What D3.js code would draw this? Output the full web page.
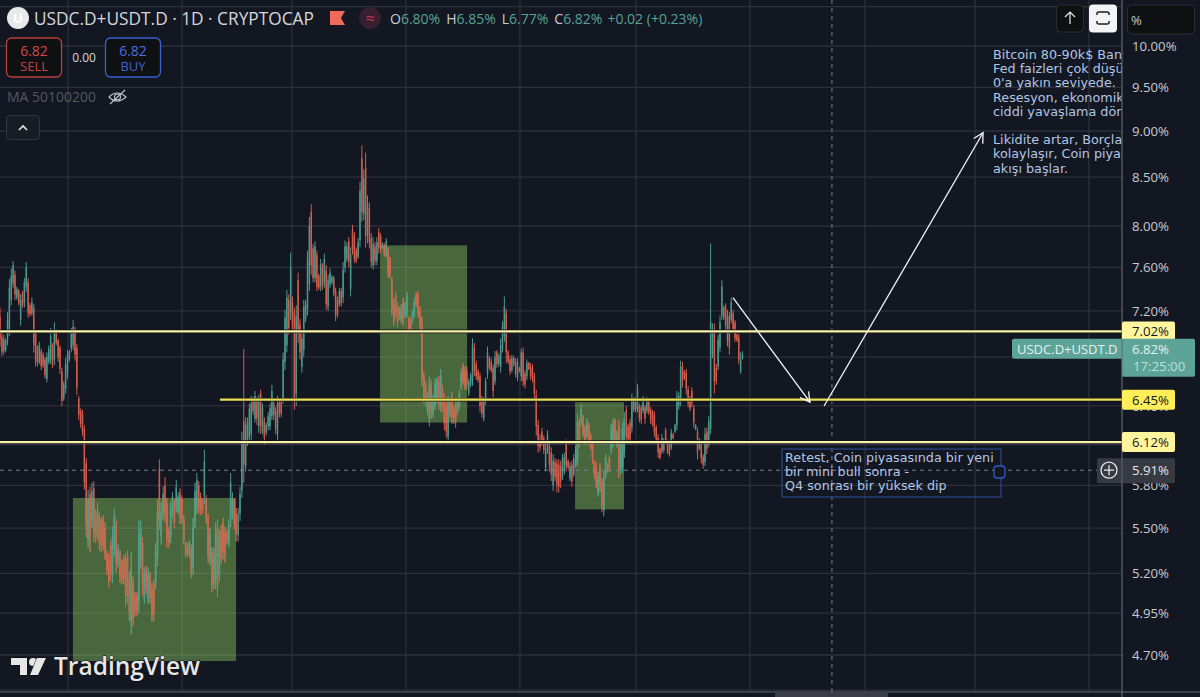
<!DOCTYPE html>
<html>
<head>
<meta charset="utf-8">
<script src="https://d3js.org/d3.v7.min.js"></script>
<style>
  html, body { margin: 0; padding: 0; background: #131722; overflow: hidden; }
  svg { display: block; }
  text { font-family: "Open Sans", sans-serif; }
  .note { font-family: "DejaVu Sans", sans-serif; font-size: 12.75px; fill: #b2c6e6; }
</style>
</head>
<body>
<svg id="chart" width="1200" height="697"></svg>
<script>
// rows are [open, high, low, close], oldest first
const barsAutumn = [
  [7.15,7.23,6.89,6.96],[6.97,7.01,6.81,6.84],[6.85,6.99,6.82,6.95],[6.86,6.96,6.84,6.94],[6.94,7.19,6.90,7.12],
  [7.02,7.49,6.98,7.41],[7.30,7.59,7.25,7.52],[7.45,7.66,7.41,7.62],[7.53,7.57,7.30,7.35],[7.32,7.42,7.30,7.40],
  [7.38,7.40,7.25,7.27],[7.12,7.35,7.07,7.30],[7.36,7.38,7.23,7.25],[7.27,7.50,7.23,7.46],[7.42,7.65,7.37,7.60],
  [7.46,7.50,7.14,7.18],[7.25,7.27,7.15,7.17],[7.18,7.32,7.16,7.28],[7.23,7.26,6.84,6.90],[7.00,7.03,6.72,6.76],
  [6.88,6.90,6.72,6.75],[6.76,6.93,6.74,6.90],[6.85,6.87,6.69,6.72],[6.82,6.84,6.71,6.73],[6.78,6.80,6.62,6.65],
  [6.62,6.84,6.59,6.80],[6.76,6.90,6.74,6.87],[6.78,7.05,6.74,6.98],[6.90,6.92,6.71,6.74],[6.78,7.10,6.73,7.04],
  [7.02,7.04,6.90,6.92],[6.94,6.96,6.76,6.80],[6.88,6.90,6.66,6.70],[6.68,6.71,6.40,6.44],[6.46,6.60,6.44,6.57],
  [6.54,6.79,6.50,6.74],[6.66,6.86,6.62,6.82],[6.78,6.86,6.76,6.84],[6.87,7.05,6.84,7.00],[6.90,7.12,6.86,7.06],
  [7.04,7.06,6.77,6.82],[6.88,6.91,6.49,6.55],[6.46,6.48,6.29,6.33],[6.36,6.38,6.23,6.26],[6.34,6.37,6.17,6.20],
  [6.22,6.25,5.77,5.82],[5.96,6.00,5.44,5.52]
];
const barsWinter = [
  [5.42,5.77,5.37,5.70],[5.74,5.79,5.34,5.40],[5.54,5.82,5.50,5.76],[5.78,5.83,5.41,5.47],[5.60,5.63,5.40,5.44],
  [5.46,5.68,5.42,5.62],[5.58,5.61,5.35,5.40],[5.54,5.57,5.34,5.38],[5.56,5.59,5.35,5.38],[5.50,5.54,5.29,5.33],
  [5.33,5.35,5.19,5.22],[5.30,5.33,5.11,5.15],[5.38,5.41,5.15,5.19],[5.20,5.51,5.14,5.44],[5.36,5.64,5.31,5.58],
  [5.52,5.56,5.21,5.27],[5.26,5.39,5.24,5.36],[5.33,5.35,5.14,5.18],[5.27,5.29,5.13,5.16],[5.30,5.32,5.13,5.17],
  [5.30,5.33,4.99,5.06],[5.31,5.35,5.01,5.06],[5.17,5.21,4.90,4.95],[4.90,5.34,4.82,5.24],[5.14,5.18,4.87,4.92],
  [5.06,5.08,4.93,4.96],[5.06,5.08,4.93,4.96],[5.02,5.55,4.95,5.46],[5.28,5.56,5.23,5.50],[5.40,5.44,5.06,5.12],
  [5.04,5.24,5.01,5.20],[5.22,5.25,5.07,5.10],[5.04,5.24,5.01,5.20],[5.19,5.21,5.01,5.05],[5.10,5.14,4.90,4.94],
  [5.13,5.16,4.90,4.95],[5.14,5.40,5.10,5.35],[5.30,5.70,5.25,5.62],[5.92,5.99,5.49,5.56],[5.44,5.68,5.39,5.62],
  [5.60,5.79,5.56,5.74],[5.80,5.86,5.54,5.60],[5.67,5.71,5.37,5.42],[5.48,5.51,5.37,5.40],[5.44,5.68,5.40,5.62],
  [5.60,5.75,5.57,5.72],[5.68,5.70,5.50,5.54],[5.65,5.84,5.61,5.79],[5.62,5.75,5.60,5.72],[5.75,5.78,5.53,5.58],
  [5.70,5.73,5.53,5.57],[5.56,5.59,5.39,5.42],[5.40,5.41,5.30,5.32],[5.38,5.40,5.31,5.33],[5.32,5.42,5.30,5.40]
];
const barsSpring = [
  [5.37,5.39,5.17,5.21],[5.24,5.57,5.19,5.50],[5.55,5.82,5.50,5.76],[5.64,5.89,5.60,5.84],[5.80,5.83,5.60,5.64],
  [5.72,5.75,5.59,5.62],[5.70,5.71,5.60,5.62],[5.72,6.06,5.67,5.97],[5.70,5.73,5.53,5.57],[5.57,5.60,5.27,5.32],
  [5.28,5.50,5.25,5.46],[5.34,5.37,5.08,5.13],[5.14,5.37,5.10,5.32],[5.16,5.54,5.10,5.48],[5.50,5.56,5.05,5.12],
  [5.20,5.49,5.15,5.43],[5.48,5.52,5.26,5.30],[5.53,5.57,5.29,5.34],[5.47,5.51,5.27,5.32],[5.47,5.49,5.39,5.41],
  [5.40,5.56,5.37,5.52],[5.56,5.89,5.51,5.82],[5.59,5.75,5.56,5.70],[5.68,5.71,5.49,5.53],[5.60,5.64,5.41,5.46],
  [5.45,5.64,5.41,5.60],[5.60,5.79,5.55,5.74],[5.76,6.20,5.71,6.12],[6.28,6.87,5.82,5.95],[5.94,6.31,5.90,6.25],
  [6.12,6.31,6.09,6.27],[6.16,6.42,6.13,6.38],[6.18,6.48,6.13,6.42],[6.45,6.47,6.33,6.36],[6.30,6.52,6.27,6.48],
  [6.44,6.47,6.25,6.30],[6.24,6.49,6.19,6.44],[6.50,6.53,6.18,6.24],[6.20,6.42,6.18,6.38],[6.28,6.31,6.10,6.15],
  [6.19,6.27,6.17,6.25],[6.24,6.35,6.21,6.32],[6.24,6.42,6.21,6.38],[6.32,6.57,6.29,6.52],[6.42,6.45,6.29,6.33],
  [6.36,6.39,6.18,6.22],[6.18,6.48,6.13,6.42],[6.44,6.46,6.31,6.34],[6.43,6.45,6.31,6.34]
];
const barsSummer = [
  [6.46,6.84,6.42,6.78],[6.76,7.21,6.69,7.14],[6.90,7.39,6.84,7.32],[7.30,7.35,6.99,7.05],[7.18,7.74,7.12,7.60],
  [7.28,7.33,7.03,7.08],[7.18,7.23,6.37,6.46],[6.50,7.25,6.40,7.15],[7.48,7.55,6.92,7.00],[7.08,7.13,6.78,6.84],
  [6.72,7.03,6.67,6.96],[6.86,7.30,6.80,7.24],[7.13,7.30,7.10,7.27],[7.22,7.76,7.16,7.68],[7.45,8.09,7.38,8.00],
  [8.14,8.22,7.53,7.62],[7.78,7.82,7.46,7.50],[7.50,7.85,7.46,7.80],[7.72,7.76,7.38,7.42],[7.52,7.54,7.39,7.41],
  [7.42,7.68,7.38,7.63],[7.60,7.64,7.39,7.43],[7.45,7.73,7.41,7.68],[7.57,7.62,7.21,7.26],[7.24,7.53,7.20,7.48],
  [7.44,7.59,7.41,7.55],[7.46,7.53,7.44,7.51],[7.50,7.52,7.33,7.36],[7.38,7.41,7.11,7.16],[7.30,7.33,7.14,7.17],
  [7.26,7.41,7.24,7.38],[7.38,7.41,7.24,7.27],[7.32,7.65,7.27,7.58],[7.60,7.86,7.55,7.80],[7.68,7.84,7.65,7.80],
  [7.85,7.89,7.60,7.65],[7.40,7.79,7.33,7.72],[7.96,8.01,7.72,7.77],[7.90,7.94,7.64,7.68],[7.76,7.79,7.64,7.66],
  [7.70,7.88,7.68,7.84],[7.86,8.45,7.79,8.36],[8.70,8.84,8.04,8.14],[8.12,8.58,8.06,8.48],[8.60,8.76,7.79,7.90],
  [7.90,8.31,7.83,8.22],[8.18,8.24,7.78,7.84],[7.88,7.93,7.60,7.65],[7.62,7.89,7.58,7.82],[7.80,7.84,7.62,7.66],
  [7.66,7.89,7.62,7.84],[7.94,7.98,7.73,7.78],[7.90,7.93,7.74,7.78],[7.79,7.84,7.78,7.83],[7.81,7.83,7.70,7.72],
  [7.72,7.88,7.70,7.85],[7.76,7.79,7.50,7.55],[7.67,7.70,7.50,7.53]
];
const barsFall = [
  [7.46,7.51,7.16,7.21],[7.26,7.31,7.07,7.11],[7.33,7.37,7.14,7.18],[7.24,7.28,7.06,7.10],[7.22,7.24,7.12,7.14],
  [7.12,7.26,7.09,7.23],[7.28,7.32,7.07,7.11],[7.16,7.28,7.14,7.25],[7.18,7.37,7.14,7.33],[7.13,7.15,7.02,7.04],
  [7.12,7.14,7.02,7.04],[7.11,7.21,7.09,7.19],[7.16,7.32,7.14,7.28],[7.35,7.37,7.24,7.26],[7.34,7.38,7.14,7.18],
  [7.20,7.24,7.03,7.08],[7.10,7.15,6.56,6.62],[6.64,6.68,6.42,6.46],[6.56,6.60,6.40,6.44],[6.36,6.51,6.33,6.48],
  [6.30,6.64,6.24,6.58],[6.56,6.61,6.30,6.35],[6.34,6.49,6.31,6.46],[6.40,6.62,6.37,6.58],[6.45,6.63,6.42,6.60],
  [6.60,6.64,6.37,6.41],[6.40,6.70,6.35,6.65],[6.53,6.57,6.35,6.39],[6.46,6.50,6.21,6.26],[6.38,6.43,6.15,6.20],
  [6.16,6.48,6.11,6.42],[6.43,6.45,6.31,6.34],[6.47,6.51,6.26,6.31],[6.38,6.41,6.26,6.30],[6.41,6.45,6.23,6.28],
  [6.35,6.45,6.33,6.43],[6.40,6.53,6.37,6.50],[6.55,6.70,6.53,6.67],[6.72,6.75,6.57,6.60],[6.68,6.72,6.53,6.56],
  [6.68,6.72,6.53,6.57],[6.50,6.62,6.48,6.60],[6.57,6.67,6.55,6.65],[6.60,6.96,6.56,6.90],[6.88,6.92,6.64,6.68],
  [6.74,6.77,6.61,6.64],[6.68,6.70,6.59,6.61],[6.64,6.67,6.35,6.40],[6.46,6.48,6.31,6.34],[6.30,6.47,6.28,6.44],
  [6.44,6.63,6.41,6.60],[6.66,6.89,6.62,6.84],[6.79,6.81,6.69,6.71],[6.76,6.79,6.67,6.69],[6.71,6.74,6.47,6.52],
  [6.60,6.85,6.57,6.80],[6.84,6.86,6.71,6.74],[6.74,6.83,6.72,6.81],[6.72,6.96,6.67,6.90],[6.88,7.11,6.84,7.06],
  [6.98,7.33,6.93,7.24],[7.18,7.22,6.75,6.84],[6.84,6.86,6.74,6.76],[6.78,6.81,6.65,6.68],[6.69,6.82,6.67,6.79],
  [6.79,6.81,6.72,6.74],[6.76,6.79,6.63,6.66],[6.63,6.79,6.60,6.76],[6.71,6.72,6.67,6.68],[6.64,6.87,6.60,6.84],
  [6.84,6.88,6.56,6.60],[6.66,6.69,6.54,6.57],[6.64,6.78,6.61,6.75],[6.75,6.76,6.69,6.70],[6.72,6.75,6.61,6.64],
  [6.71,6.74,6.59,6.62],[6.64,6.67,6.45,6.50],[6.48,6.53,6.17,6.24],[6.25,6.29,6.04,6.09],[6.13,6.18,6.05,6.08],[6.20,6.23,6.09,6.12],
  [6.15,6.17,6.03,6.06],[5.93,6.11,5.90,6.07],[6.06,6.21,6.03,6.18],[6.09,6.12,5.90,5.95],[6.04,6.08,5.83,5.88]
];
const barsLate = [
  [5.80,6.03,5.76,5.98],[5.97,6.00,5.83,5.86],[5.96,5.99,5.75,5.80],[5.95,5.99,5.75,5.79],[5.94,5.98,5.78,5.83],
  [5.86,6.03,5.84,6.00],[5.90,6.04,5.88,6.01],[6.10,6.14,5.90,5.94],[5.98,5.99,5.92,5.93],[5.85,5.97,5.83,5.94],
  [5.95,5.98,5.79,5.83],[5.88,6.03,5.86,6.00],[5.95,6.09,5.93,6.06],[5.98,6.34,5.94,6.28],[6.27,6.30,6.08,6.12],
  [6.27,6.41,6.24,6.38],[6.31,6.33,6.16,6.19],[6.23,6.25,6.10,6.13],[6.17,6.30,6.15,6.27],[6.25,6.27,6.10,6.13],[6.17,6.19,6.06,6.08],
  [6.10,6.13,5.96,6.00],[5.97,5.99,5.85,5.88],[5.94,5.97,5.78,5.82],[5.75,5.90,5.72,5.87],[5.93,5.96,5.75,5.80],
  [5.82,5.85,5.61,5.66],[5.62,5.91,5.58,5.86],[5.87,6.03,5.85,6.00],[5.95,5.96,5.89,5.90],[6.00,6.02,5.90,5.92],
  [6.06,6.26,6.03,6.22],[6.11,6.30,6.08,6.26],[6.28,6.30,6.11,6.14],[6.10,6.21,6.08,6.18],[6.24,6.29,5.85,5.92],
  [5.91,6.12,5.88,6.08],[5.93,6.27,5.89,6.22],[6.04,6.35,6.00,6.30],[6.37,6.40,6.11,6.16],[6.24,6.26,6.12,6.14],
  [6.27,6.30,6.11,6.14],[6.23,6.50,6.19,6.46],[6.45,6.47,6.35,6.37],[6.37,6.47,6.35,6.45],[6.38,6.58,6.35,6.54],
  [6.40,6.42,6.27,6.30],[6.39,6.41,6.26,6.29],[6.36,6.48,6.34,6.46],[6.39,6.41,6.26,6.30],[6.36,6.47,6.34,6.45],
  [6.43,6.45,6.33,6.35],[6.37,6.39,6.26,6.29],[6.35,6.37,6.24,6.26],[6.33,6.36,6.16,6.20],[6.23,6.25,6.11,6.14],
  [6.15,6.18,6.00,6.04],[6.07,6.08,5.99,6.00],[6.05,6.18,6.03,6.15],[6.13,6.15,6.04,6.06],[6.21,6.23,6.11,6.13],
  [6.12,6.14,6.03,6.05],[6.10,6.12,6.01,6.03],[6.08,6.22,6.06,6.19],[6.18,6.19,6.14,6.15],[6.20,6.26,6.19,6.25],
  [6.25,6.52,6.21,6.47],[6.40,6.51,6.37,6.48],[6.44,6.77,6.40,6.72],[6.72,6.76,6.55,6.60],[6.68,6.69,6.61,6.62],
  [6.67,6.70,6.49,6.54],[6.53,6.56,6.39,6.42],[6.44,6.48,6.36,6.38],[6.52,6.55,6.39,6.42],[6.38,6.41,6.23,6.27],[6.22,6.26,6.21,6.25],
  [6.20,6.23,5.99,6.04],[6.07,6.15,6.06,6.13],[6.10,6.13,5.96,6.00],[6.01,6.03,5.92,5.95],[5.97,6.23,5.94,6.18],
  [6.20,6.23,6.03,6.07],[6.10,6.32,6.08,6.28],[6.22,7.83,6.18,7.10],[6.82,7.09,6.79,7.04],[7.04,7.09,6.50,6.60],
  [6.71,6.74,6.57,6.60],[6.72,6.99,6.69,6.95],[6.88,7.16,6.84,7.10],[7.16,7.48,7.12,7.42],[7.23,7.25,7.12,7.14],
  [7.24,7.27,7.03,7.07],[6.93,7.21,6.89,7.16],[7.15,7.19,6.82,6.88],[7.12,7.32,7.09,7.28],[7.18,7.21,7.01,7.04],
  [7.10,7.12,6.93,6.96],[6.99,7.00,6.93,6.94],[6.97,7.00,6.74,6.78],[6.68,6.84,6.66,6.78],[6.79,6.85,6.78,6.82]
];

const yTicks = [10, 9.5, 9, 8.5, 8, 7.6, 7.2, 6.8, 6.4, 6.1, 5.8, 5.5, 5.2, 4.95, 4.7];
const yGridExtra = [10.5, 4.5];
const monthBars = [36.3, 97.1, 155.7, 216.5, 277.3, 339.2, 400, 461.3, 520, 580.8];

// zones as [fromBar, toBar, topValue, bottomValue]
const greenZones = [[38.9, 125.9, 5.71, 4.665], [202.7, 249.1, 7.81, 6.27], [306.7, 332.8, 6.43, 5.63]];
// levels as [value, fromBar, colour]
const levels = [[7.02, 0, '#f8f0a8'], [6.45, 117.3, '#ebdf55'], [6.12, 0, '#f8f0a8']];
const levelTags = [[7.02, '#fff59d'], [6.12, '#fff59d'], [6.45, '#ffee58']];
// arrows as [fromBar, fromValue, toBar, toValue]
const arrows = [[390.9, 7.32, 432, 6.43], [439.5, 6.40, 524.3, 8.98]];
const crossBar = 443.7, crossValue = 5.91, lastValue = 6.82;

const noteTop = ['Bitcoin 80-90k$ Bandı', 'Fed faizleri çok düşük', "0'a yakın seviyede.", 'Resesyon, ekonomik', 'ciddi yavaşlama dönemi', '', 'Likidite artar, Borçlanma', 'kolaylaşır, Coin piyasasına', 'akışı başlar.'];
const noteRetest = ['Retest, Coin piyasasında bir yeni', 'bir mini bull sonra -', 'Q4 sonrası bir yüksek dip'];
const ohlc = [['O', '6.80%'], ['H', '6.85%'], ['L', '6.77%'], ['C', '6.82%']];

const bars = [...barsAutumn, ...barsWinter, ...barsSpring, ...barsSummer, ...barsFall, ...barsLate];

const plotRight = 1122;
const svg = d3.select('#chart');
const x = d3.scaleLinear().domain([0, 598.4]).range([0, plotRight]);
const y = d3.scaleLog().domain([10, 4.7]).range([46, 655]);

const defs = svg.append('defs');
defs.append('clipPath').attr('id', 'plot')
  .append('rect').attr('width', plotRight).attr('height', 692);
defs.append('clipPath').attr('id', 'zones').selectAll('rect').data(greenZones).join('rect')
  .attr('x', d => x(d[0])).attr('width', d => x(d[1]) - x(d[0]))
  .attr('y', d => y(d[2])).attr('height', d => y(d[3]) - y(d[2]));

const plot = svg.append('g').attr('clip-path', 'url(#plot)');

// grid
const gridColor = '#2e303c';
plot.append('g').selectAll('line').data([...yTicks, ...yGridExtra]).join('line')
  .attr('x1', 0).attr('x2', plotRight).attr('y1', d => y(d)).attr('y2', d => y(d))
  .attr('stroke', gridColor).attr('stroke-width', 1.3);
plot.append('g').selectAll('line').data(monthBars).join('line')
  .attr('y1', 0).attr('y2', 692).attr('x1', d => x(d)).attr('x2', d => x(d))
  .attr('stroke', gridColor).attr('stroke-width', 1.3);

// candles
const upColor = '#4c988c', downColor = '#d25c4c';
function drawCandles(parent) {
  const candle = parent.selectAll('g').data(bars).join('g')
    .attr('stroke', d => d[3] >= d[0] ? upColor : downColor)
    .attr('fill', d => d[3] >= d[0] ? upColor : downColor);
  candle.append('line')
    .attr('x1', (d, i) => x(i)).attr('x2', (d, i) => x(i))
    .attr('y1', d => y(d[1])).attr('y2', d => y(d[2]))
    .attr('stroke-width', 1);
  candle.append('rect')
    .attr('x', (d, i) => x(i) - 0.75).attr('width', 1.5)
    .attr('y', d => y(Math.max(d[0], d[3])))
    .attr('height', d => Math.abs(y(d[0]) - y(d[3])))
    .attr('stroke', 'none');
}
drawCandles(plot.append('g'));

// green zones sit over the candles, then the candles show through muted
plot.append('g').selectAll('rect').data(greenZones).join('rect')
  .attr('x', d => x(d[0])).attr('width', d => x(d[1]) - x(d[0]))
  .attr('y', d => y(d[2])).attr('height', d => y(d[3]) - y(d[2]))
  .attr('fill', '#8fcf62').attr('fill-opacity', 0.44);
drawCandles(plot.append('g').attr('clip-path', 'url(#zones)').attr('opacity', 0.75));

// crosshair
const crossStroke = '#7b7f8c';
plot.append('line').attr('x1', 0).attr('x2', plotRight).attr('y1', y(crossValue)).attr('y2', y(crossValue))
  .attr('stroke', crossStroke).attr('stroke-dasharray', '4,4');
plot.append('line').attr('x1', x(crossBar)).attr('x2', x(crossBar)).attr('y1', 0).attr('y2', 692)
  .attr('stroke', crossStroke).attr('stroke-dasharray', '4,4');

// horizontal levels, with a dark casing under them
plot.append('g').selectAll('line').data(levels).join('line')
  .attr('x1', d => x(d[1])).attr('x2', plotRight).attr('y1', d => y(d[0])).attr('y2', d => y(d[0]))
  .attr('stroke', '#0e1017').attr('stroke-width', 3.6);
plot.append('g').selectAll('line').data(levels).join('line')
  .attr('x1', d => x(d[1])).attr('x2', plotRight).attr('y1', d => y(d[0])).attr('y2', d => y(d[0]))
  .attr('stroke', d => d[2]).attr('stroke-width', 2.2);

// arrows
const arrowG = plot.append('g').attr('stroke', '#f4f4f6').attr('stroke-width', 1.3).attr('fill', 'none');
arrows.forEach(a => {
  const x1 = x(a[0]), y1 = y(a[1]), x2 = x(a[2]), y2 = y(a[3]);
  const ang = Math.atan2(y2 - y1, x2 - x1), len = 11;
  arrowG.append('path').attr('d', d3.line()([[x1, y1], [x2, y2]]));
  arrowG.append('path').attr('d', d3.line()([
    [x2 - len * Math.cos(ang - 0.5), y2 - len * Math.sin(ang - 0.5)], [x2, y2],
    [x2 - len * Math.cos(ang + 0.5), y2 - len * Math.sin(ang + 0.5)]
  ]));
});

// annotations
plot.append('g').selectAll('text').data(noteTop).join('text').attr('class', 'note')
  .attr('x', 993).attr('y', (d, i) => 59 + i * 14.2).text(d => d);

plot.append('rect').attr('x', 782).attr('y', 449).attr('width', 219).attr('height', 48)
  .attr('fill', 'none').attr('stroke', '#2a4283').attr('stroke-width', 1.3);
plot.append('g').selectAll('text').data(noteRetest).join('text').attr('class', 'note')
  .attr('x', 785).attr('y', (d, i) => 461.5 + i * 14.4).text(d => d);
plot.append('rect').attr('x', 994).attr('y', 466).attr('width', 11).attr('height', 12).attr('rx', 3)
  .attr('fill', '#131722').attr('stroke', '#3358c4').attr('stroke-width', 1.3);

// price axis
const axisG = svg.append('g').attr('transform', `translate(${plotRight},0)`)
  .call(d3.axisRight(y).tickValues(yTicks).tickSize(0).tickPadding(10).tickFormat(d => d3.format('.2f')(d) + '%'));
axisG.select('.domain').remove();
axisG.selectAll('text').attr('fill', '#c8cad0').attr('font-size', 13.2).attr('font-family', '"Open Sans", sans-serif');

svg.append('line').attr('x1', plotRight).attr('x2', plotRight).attr('y1', 0).attr('y2', 697)
  .attr('stroke', '#62656e').attr('stroke-width', 1.2);
svg.append('line').attr('x1', 0).attr('x2', 1200).attr('y1', 692).attr('y2', 692)
  .attr('stroke', '#62656e').attr('stroke-width', 1.2);
svg.append('rect').attr('x', 775).attr('y', 692).attr('width', 113).attr('height', 5).attr('fill', '#3a3d47');

// level tags on the axis
const tag = svg.append('g').selectAll('g').data(levelTags).join('g')
  .attr('transform', d => `translate(${plotRight},${y(d[0])})`);
tag.append('rect').attr('x', 0).attr('y', -10).attr('width', 53).attr('height', 20).attr('rx', 2).attr('fill', d => d[1]);
tag.append('text').attr('x', 10).attr('y', 4.8).attr('font-size', 13.2).attr('fill', '#131722')
  .text(d => d3.format('.2f')(d[0]) + '%');

// last price tag
const lastY = y(lastValue) + 3;
svg.append('rect').attr('x', 1012).attr('y', lastY - 19).attr('width', 112).attr('height', 20).attr('rx', 2).attr('fill', '#5ca398');
svg.append('rect').attr('x', plotRight).attr('y', lastY - 19).attr('width', 73).attr('height', 38).attr('rx', 2).attr('fill', '#5ca398');
svg.append('line').attr('x1', plotRight).attr('x2', plotRight).attr('y1', lastY - 19).attr('y2', lastY + 19).attr('stroke', '#62656e');
svg.append('text').attr('x', 1017).attr('y', lastY - 4).attr('font-size', 13).attr('font-weight', 500).attr('fill', '#e6f2ef').text('USDC.D+USDT.D');
svg.append('text').attr('x', 1132).attr('y', lastY - 4).attr('font-size', 13.2).attr('font-weight', 500).attr('fill', '#e6f2ef').text('6.82%');
svg.append('text').attr('x', 1133).attr('y', lastY + 13).attr('font-size', 13.2).attr('fill', '#bfe0d9').text('17:25:00');

// crosshair tag
const crossY = y(crossValue);
svg.append('rect').attr('x', 1097).attr('y', crossY - 12).attr('width', 78).attr('height', 25).attr('rx', 2).attr('fill', '#383a43');
svg.append('line').attr('x1', plotRight).attr('x2', plotRight).attr('y1', crossY - 12).attr('y2', crossY + 13).attr('stroke', '#62656e');
svg.append('circle').attr('cx', 1109).attr('cy', crossY).attr('r', 8).attr('fill', 'none').attr('stroke', '#e6e6ea').attr('stroke-width', 1.3);
svg.append('path').attr('d', `M1104,${crossY}H1114M1109,${crossY - 5}V${crossY + 5}`).attr('stroke', '#e6e6ea').attr('stroke-width', 1.3);
svg.append('text').attr('x', 1132).attr('y', crossY + 5).attr('font-size', 13.2).attr('font-weight', 500).attr('fill', '#e4e5e8').text('5.91%');

// header
svg.append('circle').attr('cx', 18).attr('cy', 18).attr('r', 11).attr('fill', '#e9e9ea');
svg.append('text').attr('x', 18).attr('y', 23).attr('text-anchor', 'middle').attr('font-size', 13).attr('font-weight', 700).attr('fill', '#fff').text('U');
svg.append('text').attr('x', 34).attr('y', 25).attr('font-size', 17.3).attr('fill', '#d5d7dc').text('USDC.D+USDT.D · 1D · CRYPTOCAP');
svg.append('path').attr('d', 'M330,11H345L341,18L345,25H330Z').attr('fill', '#ef6a5b');
svg.append('circle').attr('cx', 370).attr('cy', 18).attr('r', 11).attr('fill', '#381f2e');
svg.append('text').attr('x', 370).attr('y', 23.5).attr('text-anchor', 'middle').attr('font-size', 16).attr('fill', '#c9345f').text('≈');

const headerFont = 14;
const legend = svg.append('text').attr('x', 390).attr('y', 23.5).attr('font-size', headerFont);
ohlc.forEach((d, i) => {
  legend.append('tspan').attr('fill', '#c9ccd3').attr('dx', i ? 6 : 0).text(d[0]);
  legend.append('tspan').attr('fill', '#56a296').text(d[1]);
});
legend.append('tspan').attr('fill', '#56a296').attr('dx', 5).text('+0.02 (+0.23%)');

// buy and sell boxes
const sell = svg.append('g');
sell.append('rect').attr('x', 6.5).attr('y', 38).attr('width', 55).attr('height', 39).attr('rx', 5).attr('fill', '#0f1012').attr('stroke', '#b83f3d').attr('stroke-width', 1.3);
sell.append('text').attr('x', 34).attr('y', 56).attr('text-anchor', 'middle').attr('font-size', 14).attr('font-weight', 500).attr('fill', '#d5484a').text('6.82');
sell.append('text').attr('x', 34).attr('y', 71).attr('text-anchor', 'middle').attr('font-size', 13).attr('fill', '#c9403f').text('SELL');
const buy = svg.append('g');
buy.append('rect').attr('x', 105.5).attr('y', 38).attr('width', 55).attr('height', 39).attr('rx', 5).attr('fill', '#0f1012').attr('stroke', '#3a5fd0').attr('stroke-width', 1.3);
buy.append('text').attr('x', 133).attr('y', 56).attr('text-anchor', 'middle').attr('font-size', 14).attr('font-weight', 500).attr('fill', '#4a6ee0').text('6.82');
buy.append('text').attr('x', 133).attr('y', 71).attr('text-anchor', 'middle').attr('font-size', 13).attr('fill', '#3f63d2').text('BUY');
svg.append('text').attr('x', 84).attr('y', 62).attr('text-anchor', 'middle').attr('font-size', 12).attr('font-weight', 500).attr('fill', '#d5d7dc').text('0.00');

svg.append('text').attr('x', 7).attr('y', 102).attr('font-size', 14).attr('fill', '#54575f').text('MA 50100200');
const eye = svg.append('g').attr('fill', 'none').attr('stroke', '#c0c2c8').attr('stroke-width', 1.1);
eye.append('path').attr('d', 'M109,97Q117,89 126,97Q117,105 109,97Z');
eye.append('circle').attr('cx', 117.5).attr('cy', 97).attr('r', 3);
eye.append('path').attr('d', 'M110,104L125,90');

svg.append('rect').attr('x', 6.5).attr('y', 115.5).attr('width', 33).attr('height', 24).attr('rx', 3).attr('fill', '#181c24').attr('stroke', '#33363f');
svg.append('path').attr('d', 'M19,130L23,126L27,130').attr('fill', 'none').attr('stroke', '#e8e8ea').attr('stroke-width', 1.6);

// top right buttons
svg.append('rect').attr('x', 1056.5).attr('y', 5).attr('width', 27).attr('height', 27).attr('rx', 4).attr('fill', '#0f1012').attr('stroke', '#2c2e35');
svg.append('path').attr('d', 'M1070,24V12M1065,17L1070,12L1075,17').attr('fill', 'none').attr('stroke', '#e8e8ea').attr('stroke-width', 1.2);
svg.append('rect').attr('x', 1089).attr('y', 4.5).attr('width', 28).attr('height', 28).attr('rx', 4).attr('fill', '#f4f4f5');
svg.append('path').attr('d', 'M1097,15V13Q1097,12 1099,12H1107Q1109,12 1109,13V15M1097,21V23Q1097,24 1099,24H1107Q1109,24 1109,23V21')
  .attr('fill', 'none').attr('stroke', '#1a1c22').attr('stroke-width', 1.5);
svg.append('rect').attr('x', 1127.5).attr('y', 5).attr('width', 67).attr('height', 29).attr('rx', 4).attr('fill', '#0f1012').attr('stroke', '#2c2e35');
svg.append('text').attr('x', 1131).attr('y', 25).attr('font-size', 13).attr('fill', '#c8cad0').text('%');

// watermark
const mark = svg.append('g').attr('fill', '#e6e6e6').attr('stroke', '#0c0d12').attr('stroke-width', 1).attr('paint-order', 'stroke');
mark.append('path').attr('d', 'M11,658H27V675H20V665H11Z');
mark.append('circle').attr('cx', 33).attr('cy', 662).attr('r', 4);
mark.append('path').attr('d', 'M37,658H46L38,675H30Z');
mark.append('text').attr('x', 54).attr('y', 675).attr('font-size', 24.5).attr('font-weight', 600).attr('font-family', '"Open Sans", sans-serif').text('TradingView');
</script>
</body>
</html>
